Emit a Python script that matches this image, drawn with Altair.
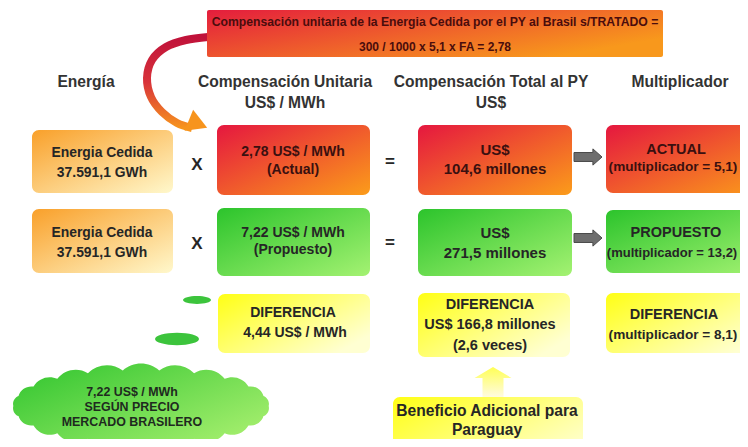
import math
import altair as alt
import pandas as pd

# ---------------- content (text values) ----------------
banner_text = ["Compensación unitaria de la Energia Cedida por el PY al Brasil s/TRATADO =",
               "300 / 1000 x 5,1 x FA = 2,78"]
header_text = ["Energía", "Compensación Unitaria", "US$ / MWh",
               "Compensación Total al PY", "US$", "Multiplicador"]
energia_text = ["Energia Cedida", "37.591,1 GWh"]
unit_actual = ["2,78 US$ / MWh", "(Actual)"]
unit_prop = ["7,22 US$ / MWh", "(Propuesto)"]
total_actual = ["US$", "104,6 millones"]
total_prop = ["US$", "271,5 millones"]
mult_actual = ["ACTUAL", "(multiplicador = 5,1)"]
mult_prop = ["PROPUESTO", "(multiplicador = 13,2)"]
diff_unit = ["DIFERENCIA", "4,44 US$ / MWh"]
diff_total = ["DIFERENCIA", "US$ 166,8 millones", "(2,6 veces)"]
diff_mult = ["DIFERENCIA", "(multiplicador = 8,1)"]
cloud_text = ["7,22 US$ /  MWh", "SEGÚN PRECIO", "MERCADO BRASILERO"]
beneficio_text = ["Beneficio Adicional para", "Paraguay"]
operator_text = ["X", "=", "X", "="]

# ---------------- layout (positions, sizes, styles) ----------------
FONT = "Liberation Sans, Arial, sans-serif"
# plot area is 732x431 placed at the page's 8px margin; domains keep page-pixel units
xs = alt.Scale(domain=[8, 740], nice=False, zero=False)
ys = alt.Scale(domain=[8, 439], nice=False, zero=False, reverse=True)
X = dict(scale=xs, axis=None)
Y = dict(scale=ys, axis=None)


def grad(c0, c1, x2=1, y2=1, mid=None):
    stops = [alt.GradientStop(color=c0, offset=0)]
    if mid:
        stops.append(alt.GradientStop(color=mid, offset=0.5))
    stops.append(alt.GradientStop(color=c1, offset=1))
    return alt.Gradient(gradient="linear", stops=stops, x1=0, y1=0, x2=x2, y2=y2)


def boxes(rows, fill, radius=7):
    df = pd.DataFrame(rows, columns=["x0", "x1", "y0", "y1"])
    return alt.Chart(df).mark_rect(cornerRadius=radius, fill=fill, stroke=None, clip=True).encode(
        x=alt.X("x0:Q", **X), x2="x1:Q", y=alt.Y("y0:Q", **Y), y2="y1:Q")


red_boxes = boxes([(217, 370, 125, 195), (418, 572, 125, 195), (606, 770, 125, 193)],
                  grad("#e5173f", "#fb9c1a"))
banner_box = boxes([(207, 663, 10, 57)], grad("#e41d3d", "#f8981c", x2=1, y2=0.6), radius=2)
green_boxes = boxes([(217, 370, 208, 276), (418, 572, 209, 276), (606, 770, 210, 273)],
                    grad("#2cc42c", "#a4f272"))
yellow_boxes = boxes([(218, 370, 294, 353), (418, 570, 293, 357), (606, 770, 293, 353),
                      (393, 583, 397, 470)],
                     grad("#ffff14", "#ffffd2", x2=1, y2=0.7))
energy_boxes = boxes([(32, 173, 130, 193), (32, 173, 209, 273)],
                     grad("#f9a02a", "#fff8cc"))

# curved arrow from the banner down to the unit price box
curve_df = pd.DataFrame({
    "i": list(range(9)),
    "x": [208, 186, 166, 152, 147, 151, 162, 177, 192],
    "y": [37, 40, 47, 60, 78, 97, 112, 123, 128],
})
curve = alt.Chart(curve_df).mark_line(
    interpolate="cardinal", strokeWidth=8, strokeCap="butt",
    stroke=grad("#c0123a", "#f7941d", x2=0, y2=1, mid="#d8333a")
).encode(x=alt.X("x:Q", **X), y=alt.Y("y:Q", **Y), order="i:O")
curve_head = alt.Chart(pd.DataFrame({"x": [198], "y": [124]})).mark_point(
    shape="triangle-right", filled=True, opacity=1, fill="#f7941d", size=520, angle=22
).encode(x=alt.X("x:Q", **X), y=alt.Y("y:Q", **Y))

# gray arrows between total and multiplier
GRAY_ARROW = "M-1,-0.32 L0.35,-0.32 L0.35,-0.58 L1,0 L0.35,0.58 L0.35,0.32 L-1,0.32 Z"
gray_arrows = alt.Chart(pd.DataFrame({"x": [588, 588], "y": [157, 238]})).mark_point(
    shape=GRAY_ARROW, filled=True, opacity=1, fill="#6e6e6e", stroke="#4a4a4a",
    strokeWidth=1, size=28 * 28
).encode(x=alt.X("x:Q", **X), y=alt.Y("y:Q", **Y))

# yellow arrow up from the "Beneficio" box
YEL_ARROW = "M-1,-0.7 L0.27,-0.7 L0.27,-1.23 L1,0 L0.27,1.23 L0.27,0.7 L-1,0.7 Z"
yellow_arrow = alt.Chart(pd.DataFrame({"x": [493], "y": [382]})).mark_point(
    shape=YEL_ARROW, filled=True, opacity=1, angle=270, size=30 * 30,
    fill=grad("#fffbe0", "#ffff55", x2=1, y2=0)
).encode(x=alt.X("x:Q", **X), y=alt.Y("y:Q", **Y))

# small green ellipses
ELLIPSE = "M-1,0 A1,0.28 0 1,1 1,0 A1,0.28 0 1,1 -1,0 Z"
ellipses = alt.Chart(pd.DataFrame({"x": [197, 177], "y": [300, 339], "s": [28 * 28, 44 * 44]})).mark_point(
    shape=ELLIPSE, filled=True, opacity=1, fill="#3cc43c"
).encode(x=alt.X("x:Q", **X), y=alt.Y("y:Q", **Y),
         size=alt.Size("s:Q", scale=None, legend=None))

# cloud: scalloped ellipse drawn as a custom symbol
N = 22
RY = 0.3
pts = [(math.cos(2 * math.pi * k / N) * 0.96, math.sin(2 * math.pi * k / N) * RY * 0.9) for k in range(N)]
parts = ["M%.3f,%.3f" % pts[0]]
for k in range(N):
    a = pts[k]
    b = pts[(k + 1) % N]
    chord = math.hypot(b[0] - a[0], b[1] - a[1])
    r = chord * 0.75
    parts.append("A%.3f,%.3f 0 0,1 %.3f,%.3f" % (r, r, b[0], b[1]))
parts.append("Z")
CLOUD = " ".join(parts)
cloud = alt.Chart(pd.DataFrame({"x": [141], "y": [406]})).mark_point(
    shape=CLOUD, filled=True, opacity=1, size=266 * 266, clip=True,
    fill=grad("#2ec42e", "#a6ef6e", x2=1, y2=0.8)
).encode(x=alt.X("x:Q", **X), y=alt.Y("y:Q", **Y))

# ---------------- texts ----------------
DARK = "#262626"
RED_T = "#3a1010"
HEAD = "#333333"
rows = []
rows += [(banner_text[0], 435, 22, 12.2, "#4a0d0d"), (banner_text[1], 435, 47, 12, "#4a0d0d")]
rows += [(header_text[0], 86, 82, 15.6, HEAD), (header_text[1], 285, 82, 15.6, HEAD),
         (header_text[2], 285, 103, 15.6, HEAD), (header_text[3], 491, 82, 15.6, HEAD),
         (header_text[4], 491, 103, 15.6, HEAD), (header_text[5], 680, 82, 15.6, HEAD)]
rows += [(energia_text[0], 102, 153, 13.9, DARK), (energia_text[1], 102, 173, 13.9, DARK),
         (energia_text[0], 102, 233, 13.9, DARK), (energia_text[1], 102, 253, 13.9, DARK)]
rows += [(operator_text[0], 197, 165, 17, DARK), (operator_text[1], 390, 162, 17, DARK),
         (operator_text[2], 197, 244, 17, DARK), (operator_text[3], 390, 243, 17, DARK)]
rows += [(unit_actual[0], 293, 152, 14, RED_T), (unit_actual[1], 293, 170, 14, RED_T),
         (unit_prop[0], 293, 233, 14, DARK), (unit_prop[1], 293, 250, 14, DARK)]
rows += [(total_actual[0], 495, 150, 15, RED_T), (total_actual[1], 495, 169, 15, RED_T),
         (total_prop[0], 495, 233, 15, DARK), (total_prop[1], 495, 253, 15, DARK)]
rows += [(mult_actual[0], 676, 150, 14.5, RED_T), (mult_actual[1], 673, 167, 13.6, RED_T),
         (mult_prop[0], 676, 233, 14.5, DARK), (mult_prop[1], 672, 253, 13.0, DARK)]
rows += [(diff_unit[0], 293, 313, 14, DARK), (diff_unit[1], 295, 333, 14, DARK)]
rows += [(diff_total[0], 490, 305, 14.5, DARK), (diff_total[1], 490, 325, 14.5, DARK),
         (diff_total[2], 490, 346, 14.5, DARK)]
rows += [(diff_mult[0], 674, 315, 14.5, DARK), (diff_mult[1], 673, 335, 13.6, DARK)]
rows += [(cloud_text[0], 132, 392, 12.4, "#1f2a1f"), (cloud_text[1], 132, 407, 12.4, "#1f2a1f"),
         (cloud_text[2], 132, 422, 12.4, "#1f2a1f")]
rows += [(beneficio_text[0], 487, 411, 15.6, DARK), (beneficio_text[1], 487, 430, 15.6, DARK)]

text_df = pd.DataFrame(rows, columns=["t", "x", "y", "s", "c"])
texts = alt.Chart(text_df).mark_text(
    font=FONT, fontWeight="bold", align="center", baseline="middle", clip=True
).encode(
    x=alt.X("x:Q", **X), y=alt.Y("y:Q", **Y),
    text="t:N", size=alt.Size("s:Q", scale=None, legend=None),
    color=alt.Color("c:N", scale=None, legend=None))

chart = alt.layer(
    curve, curve_head, banner_box, energy_boxes, red_boxes, green_boxes, yellow_boxes,
    gray_arrows, yellow_arrow, ellipses, cloud, texts
).properties(
    width=732, height=431, padding=0, autosize=alt.AutoSizeParams(type="none"),
    background="white"
).configure_view(stroke=None)

chart.save("out.html", embed_options={"renderer": "svg", "actions": False})
